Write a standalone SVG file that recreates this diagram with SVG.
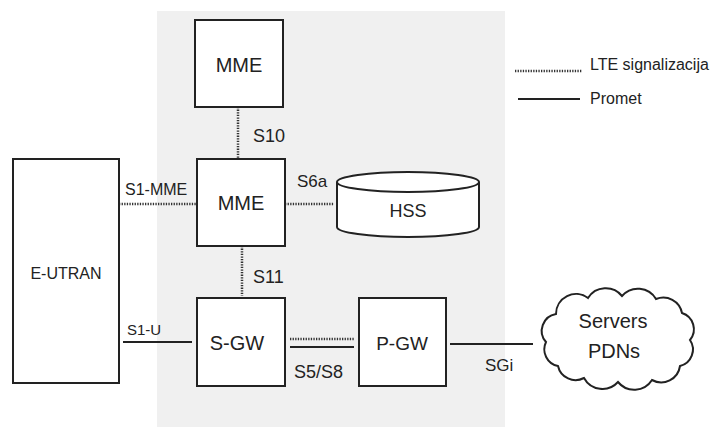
<svg xmlns="http://www.w3.org/2000/svg" width="715" height="427" viewBox="0 0 715 427">
<style>
  text { font-family: "Liberation Sans", Arial, sans-serif; fill: #222; }
  .box { fill: #fff; stroke: #222; stroke-width: 2; }
  .dot { fill: none; stroke: #333; stroke-width: 2.5; stroke-dasharray: 1.3 1.3; }
  .sol { fill: none; stroke: #222; stroke-width: 2; }
  .lbl { font-size: 16px; }
  .nm { font-size: 19px; text-anchor: middle; }
</style>
<rect x="157" y="11" width="348" height="416" fill="#f0f0f0"/>
<g id="legend">
  <line class="dot" x1="515" y1="71" x2="582" y2="71"/>
  <text x="590" y="70" style="font-size:16px">LTE signalizacija</text>
  <line class="sol" x1="518" y1="99" x2="580" y2="99"/>
  <text x="590" y="104" style="font-size:16px">Promet</text>
</g>
<g id="connectors">
  <line class="dot" x1="238" y1="107" x2="238" y2="159"/>
  <text class="lbl" x="253" y="142" style="font-size:18px">S10</text>
  <line class="dot" x1="119" y1="204" x2="197" y2="204"/>
  <text class="lbl" x="125" y="195">S1-MME</text>
  <line class="dot" x1="285" y1="204" x2="334" y2="204"/>
  <text class="lbl" x="297" y="187" style="font-size:17px">S6a</text>
  <line class="dot" x1="242" y1="246" x2="242" y2="296"/>
  <text class="lbl" x="253" y="283" style="font-size:18px">S11</text>
  <line class="sol" x1="123" y1="342" x2="192" y2="342"/>
  <text class="lbl" x="127" y="335" style="font-size:15px">S1-U</text>
  <line class="dot" x1="290" y1="339" x2="354" y2="339"/>
  <line class="sol" x1="290" y1="347" x2="354" y2="347"/>
  <text class="lbl" x="294" y="378" style="font-size:18px">S5/S8</text>
  <line class="sol" x1="450" y1="344" x2="533" y2="344"/>
  <text class="lbl" x="485" y="371" style="font-size:17px">SGi</text>
</g>
<g id="mme-top">
  <rect class="box" x="195" y="20" width="88" height="87"/>
  <text class="nm" x="239" y="72" style="font-size:20px">MME</text>
</g>
<g id="mme">
  <rect class="box" x="197" y="159" width="88" height="87"/>
  <text class="nm" x="241" y="210" style="font-size:20px">MME</text>
</g>
<g id="eutran">
  <rect class="box" x="13" y="159" width="106" height="224"/>
  <text class="nm" x="66" y="279" style="font-size:16px">E-UTRAN</text>
</g>
<g id="hss">
  <path class="box" d="M337,182 L337,227 A71,10 0 0 0 479,227 L479,182"/>
  <ellipse class="box" cx="408" cy="182" rx="71" ry="10"/>
  <text class="nm" x="408" y="217" style="font-size:18px">HSS</text>
</g>
<g id="sgw">
  <rect class="box" x="197" y="298" width="88" height="88"/>
  <text class="nm" x="237" y="350" style="font-size:20px">S-GW</text>
</g>
<g id="pgw">
  <rect class="box" x="359" y="298" width="87" height="88"/>
  <text class="nm" x="402" y="350">P-GW</text>
</g>
<g id="cloud">
  <path class="box" d="M556,314 A20,20 0 0 1 588,298 A21,21 0 0 1 622,296 A21,21 0 0 1 656,299 A19,19 0 0 1 682,313 A17,17 0 0 1 690,340 A17,17 0 0 1 680,366 A19,19 0 0 1 652,380 A21,21 0 0 1 618,382 A21,21 0 0 1 584,378 A18,18 0 0 1 558,366 A17,17 0 0 1 546,342 A17,17 0 0 1 556,314 Z"/>
  <text class="nm" x="613" y="328" style="font-size:20px">Servers</text>
  <text class="nm" x="614" y="358" style="font-size:20px">PDNs</text>
</g>
</svg>
